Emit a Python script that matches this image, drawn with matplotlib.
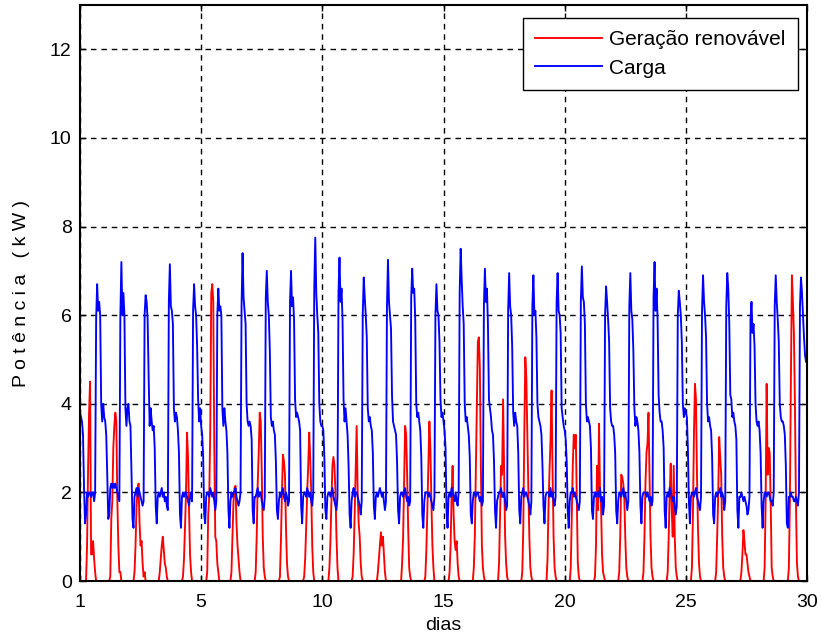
import numpy as np
import matplotlib.pyplot as plt

plt.rcParams['font.family'] = ['Liberation Sans', 'DejaVu Sans']

# hourly values (kW), one row per day, hours 0..23
geracao_kw = [
    [0, 0, 0, 0, 0, 0, 0.0, 0.8, 2.5, 3.8, 4.5, 0.6, 0.6, 0.9, 0.5, 0.2, 0, 0, 0, 0, 0, 0, 0, 0],
    [0, 0, 0, 0, 0, 0, 0.1, 1.4, 1.8, 3.0, 3.5, 3.8, 3.6, 1.8, 0.8, 0.2, 0.2, 0, 0, 0, 0, 0, 0, 0],
    [0, 0, 0, 0, 0, 0, 0.2, 0.8, 1.7, 2.0, 2.2, 1.3, 0.8, 0.9, 0.4, 0.1, 0.2, 0, 0, 0, 0, 0, 0, 0],
    [0, 0, 0, 0, 0, 0, 0, 0.2, 0.5, 0.8, 1.0, 0.7, 0.4, 0.3, 0.1, 0, 0, 0, 0, 0, 0, 0, 0, 0],
    [0, 0, 0, 0, 0, 0, 0.1, 0.5, 1.2, 2.0, 3.35, 2.8, 1.6, 0.6, 0.2, 0, 0, 0, 0, 0, 0, 0, 0, 0],
    [0, 0, 0, 0, 0, 0, 0.2, 1.5, 1.9, 3.4, 6.5, 6.7, 6.3, 3.0, 1.0, 0.9, 0.4, 0.2, 0, 0, 0, 0, 0, 0],
    [0, 0, 0, 0, 0, 0, 0.2, 1.0, 1.8, 2.1, 2.15, 1.3, 0.8, 0.5, 0.2, 0, 0, 0, 0, 0, 0, 0, 0, 0],
    [0, 0, 0, 0, 0, 0, 0.2, 1.0, 2.2, 2.9, 3.8, 3.6, 2.5, 1.0, 0.3, 0.1, 0, 0, 0, 0, 0, 0, 0, 0],
    [0, 0, 0, 0, 0, 0, 0.1, 0.9, 2.0, 2.85, 2.7, 2.4, 1.2, 0.4, 0.1, 0, 0, 0, 0, 0, 0, 0, 0, 0],
    [0, 0, 0, 0, 0, 0, 0.1, 0.5, 1.2, 2.0, 2.6, 3.35, 2.8, 2.0, 0.8, 0.2, 0, 0, 0, 0, 0, 0, 0, 0],
    [0, 0, 0, 0, 0, 0, 0, 0.3, 0.9, 1.8, 2.6, 2.8, 2.6, 2.0, 1.0, 0.3, 0, 0, 0, 0, 0, 0, 0, 0],
    [0, 0, 0, 0, 0, 0, 0.1, 0.6, 1.5, 2.5, 3.5, 2.0, 1.3, 1.0, 0.4, 0.1, 0, 0, 0, 0, 0, 0, 0, 0],
    [0, 0, 0, 0, 0, 0, 0, 0.2, 0.5, 0.8, 1.1, 0.8, 1.0, 0.6, 0.2, 0, 0, 0, 0, 0, 0, 0, 0, 0],
    [0, 0, 0, 0, 0, 0, 0, 0.4, 1.0, 2.2, 3.5, 3.3, 2.4, 1.2, 0.3, 0.1, 0, 0, 0, 0, 0, 0, 0, 0],
    [0, 0, 0, 0, 0, 0, 0.1, 0.7, 1.6, 2.6, 3.6, 3.0, 1.8, 0.8, 0.3, 0, 0, 0, 0, 0, 0, 0, 0, 0],
    [0, 0, 0, 0, 0, 0, 0.2, 0.8, 1.9, 2.6, 1.5, 0.9, 0.7, 0.9, 0.4, 0.1, 0, 0, 0, 0, 0, 0, 0, 0],
    [0, 0, 0, 0, 0, 0, 0.3, 1.0, 2.5, 4.0, 5.4, 5.5, 4.8, 2.6, 0.8, 0.3, 0.1, 0, 0, 0, 0, 0, 0, 0],
    [0, 0, 0, 0, 0, 0, 0, 0.4, 1.5, 2.6, 2.4, 4.1, 2.5, 1.0, 0.4, 0.1, 0, 0, 0, 0, 0, 0, 0, 0],
    [0, 0, 0, 0, 0, 0, 0.2, 1.2, 3.3, 5.05, 4.6, 3.3, 2.1, 1.0, 0.3, 0.1, 0, 0, 0, 0, 0, 0, 0, 0],
    [0, 0, 0, 0, 0, 0, 0, 0.5, 1.7, 2.5, 3.2, 4.3, 2.5, 1.0, 0.3, 0.1, 0, 0, 0, 0, 0, 0, 0, 0],
    [0, 0, 0, 0, 0, 0, 0.3, 1.5, 2.6, 3.3, 3.0, 3.3, 1.9, 0.4, 0.1, 0, 0, 0, 0, 0, 0, 0, 0, 0],
    [0, 0, 0, 0, 0, 0, 0.1, 0.8, 2.6, 1.6, 3.55, 2.0, 1.7, 0.6, 0.2, 0.1, 0, 0, 0, 0, 0, 0, 0, 0],
    [0, 0, 0, 0, 0, 0, 0.2, 1.0, 2.4, 2.35, 2.2, 1.9, 1.0, 0.3, 0.1, 0, 0, 0, 0, 0, 0, 0, 0, 0],
    [0, 0, 0, 0, 0, 0, 0.2, 1.0, 2.2, 2.9, 3.1, 3.8, 2.4, 1.0, 0.3, 0.1, 0, 0, 0, 0, 0, 0, 0, 0],
    [0, 0, 0, 0, 0, 0, 0.2, 1.0, 2.0, 2.65, 1.6, 1.0, 2.6, 1.0, 0.3, 0.1, 0, 0, 0, 0, 0, 0, 0, 0],
    [0, 0, 0, 0, 0, 0, 0.3, 1.5, 3.3, 4.45, 4.1, 2.4, 1.2, 0.4, 0.1, 0, 0, 0, 0, 0, 0, 0, 0, 0],
    [0, 0, 0, 0, 0, 0, 0.2, 1.0, 1.9, 3.25, 2.8, 2.4, 1.0, 0.3, 0.1, 0, 0, 0, 0, 0, 0, 0, 0, 0],
    [0, 0, 0, 0, 0, 0, 0, 0.2, 0.6, 1.15, 0.9, 0.6, 0.6, 0.4, 0.2, 0.1, 0, 0, 0, 0, 0, 0, 0, 0],
    [0, 0, 0, 0, 0, 0, 0.3, 1.8, 4.45, 2.4, 3.0, 2.9, 1.8, 0.3, 0.1, 0, 0, 0, 0, 0, 0, 0, 0, 0],
    [0, 0, 0, 0, 0, 0, 0.3, 1.8, 4.5, 6.9, 6.3, 5.6, 4.0, 1.8, 0.4, 0.1, 0, 0, 0, 0, 0, 0, 0, 0],
]

carga_kw = [
    [3.8, 3.7, 3.6, 3.3, 2.1, 1.3, 1.5, 2.0, 1.9, 2.0, 2.0, 1.9, 2.0, 2.0, 1.8, 2.0, 5.9, 6.7, 6.1, 6.3, 6.0, 4.0, 3.6, 4.0],
    [3.7, 3.6, 3.3, 2.4, 1.4, 1.5, 2.1, 2.2, 2.1, 2.2, 2.1, 2.2, 2.1, 2.0, 1.9, 1.8, 6.0, 7.2, 6.0, 6.5, 6.0, 3.9, 3.5, 3.9],
    [4.0, 3.6, 3.5, 2.4, 1.4, 1.2, 1.9, 2.0, 2.1, 1.9, 2.1, 2.0, 1.9, 1.8, 1.7, 1.8, 6.0, 6.45, 6.3, 5.9, 4.6, 3.5, 3.9, 3.6],
    [3.4, 3.5, 3.0, 1.7, 1.3, 1.9, 2.0, 1.9, 2.0, 2.1, 1.9, 2.0, 1.8, 1.9, 1.7, 1.6, 6.3, 7.15, 6.2, 6.1, 5.8, 3.9, 3.6, 3.8],
    [3.7, 3.4, 2.9, 1.5, 1.2, 1.9, 2.0, 1.9, 2.0, 2.0, 1.9, 1.8, 1.7, 1.9, 2.0, 1.8, 6.1, 6.7, 6.2, 6.0, 5.3, 4.1, 3.6, 3.9],
    [3.5, 3.3, 2.8, 1.5, 1.3, 1.9, 2.0, 2.0, 1.9, 2.1, 2.0, 1.9, 2.0, 1.8, 1.6, 1.8, 6.0, 6.6, 6.1, 6.2, 6.0, 3.9, 3.5, 3.9],
    [3.6, 3.4, 2.9, 1.6, 1.2, 1.8, 2.0, 1.9, 2.0, 2.0, 2.1, 1.9, 1.8, 1.7, 1.8, 2.0, 6.2, 7.4, 6.4, 6.1, 5.8, 4.0, 3.6, 3.5],
    [3.6, 3.5, 3.2, 1.6, 1.3, 1.9, 1.9, 2.0, 2.1, 1.9, 2.0, 2.0, 1.8, 1.7, 1.6, 1.9, 6.4, 7.0, 6.3, 6.0, 5.2, 3.7, 3.5, 3.6],
    [3.4, 3.3, 2.7, 1.6, 1.4, 1.8, 2.0, 1.9, 2.0, 2.1, 1.9, 1.8, 2.0, 1.9, 1.7, 1.8, 6.3, 7.0, 6.2, 6.4, 5.9, 4.1, 3.7, 3.8],
    [3.7, 3.6, 3.4, 1.7, 1.3, 1.9, 2.0, 2.0, 1.9, 2.1, 2.0, 1.9, 2.0, 1.8, 1.7, 2.0, 6.6, 7.75, 6.5, 6.0, 5.6, 4.0, 3.6, 3.5],
    [3.5, 3.4, 2.8, 1.6, 1.4, 1.9, 2.0, 2.0, 1.9, 2.0, 2.1, 1.9, 1.8, 1.7, 1.6, 1.9, 6.5, 7.3, 6.3, 6.6, 5.9, 4.1, 3.6, 3.9],
    [3.6, 3.3, 2.6, 1.5, 1.2, 1.8, 2.0, 2.1, 1.9, 2.0, 2.0, 1.9, 1.8, 1.7, 1.5, 1.8, 6.0, 6.85, 6.4, 6.0, 5.5, 3.9, 3.6, 3.7],
    [3.5, 3.4, 2.9, 1.7, 1.4, 1.9, 2.0, 1.9, 2.0, 2.1, 2.0, 1.9, 2.0, 1.8, 1.6, 1.8, 6.2, 7.25, 6.3, 6.0, 5.7, 4.2, 3.6, 3.5],
    [3.4, 3.3, 2.7, 1.6, 1.3, 1.9, 2.0, 2.0, 1.9, 2.0, 2.1, 1.9, 1.8, 1.9, 1.7, 1.8, 6.4, 7.05, 6.5, 6.6, 5.9, 4.0, 3.7, 3.8],
    [3.6, 3.4, 2.8, 1.5, 1.2, 1.8, 2.0, 2.0, 2.0, 1.9, 2.0, 1.9, 1.8, 1.7, 1.6, 1.9, 6.0, 6.7, 6.1, 6.0, 5.4, 4.1, 3.7, 3.8],
    [3.6, 3.4, 3.0, 1.6, 1.2, 1.9, 2.0, 1.9, 2.1, 2.0, 1.9, 1.8, 2.0, 1.8, 1.7, 2.0, 6.5, 7.5, 6.8, 6.2, 5.8, 4.0, 3.6, 3.7],
    [3.5, 3.3, 2.8, 1.5, 1.3, 1.8, 2.0, 2.0, 1.9, 2.0, 2.0, 1.9, 1.8, 1.9, 1.7, 1.8, 6.2, 7.05, 6.3, 6.6, 5.8, 4.1, 3.9, 3.7],
    [3.4, 3.3, 2.7, 1.6, 1.2, 1.8, 1.9, 2.0, 2.0, 2.1, 1.9, 1.9, 2.0, 1.8, 1.6, 1.7, 6.1, 6.95, 6.2, 6.0, 5.3, 3.8, 3.5, 3.8],
    [3.6, 3.5, 2.9, 1.6, 1.3, 1.9, 2.0, 2.1, 1.9, 2.0, 2.0, 1.9, 1.8, 1.7, 1.5, 1.8, 6.2, 6.9, 6.0, 6.1, 5.5, 4.0, 3.7, 3.6],
    [3.5, 3.3, 2.6, 1.7, 1.3, 1.9, 2.0, 2.0, 2.0, 1.9, 2.1, 1.9, 2.0, 1.8, 1.7, 1.9, 6.3, 6.95, 6.1, 6.0, 5.6, 3.9, 3.7, 3.5],
    [3.4, 3.2, 2.7, 1.6, 1.2, 1.8, 2.0, 2.0, 2.1, 1.9, 2.0, 1.9, 1.8, 1.7, 1.6, 1.8, 6.3, 7.1, 6.4, 6.3, 5.8, 4.0, 3.6, 3.7],
    [3.6, 3.5, 3.0, 1.6, 1.4, 1.9, 2.0, 1.9, 2.0, 2.0, 1.9, 2.1, 1.8, 1.9, 1.5, 1.7, 6.0, 6.65, 6.3, 5.9, 5.4, 3.9, 3.6, 3.5],
    [3.5, 3.3, 2.9, 1.6, 1.3, 1.8, 2.0, 2.0, 1.9, 2.0, 2.1, 1.9, 2.0, 1.8, 1.6, 1.8, 6.2, 6.95, 6.1, 5.9, 5.2, 3.9, 3.5, 3.7],
    [3.6, 3.4, 2.9, 1.7, 1.3, 1.9, 2.0, 2.0, 2.0, 1.9, 2.0, 1.9, 1.8, 1.9, 1.7, 1.8, 6.4, 7.2, 6.1, 6.6, 5.9, 4.2, 3.8, 3.6],
    [3.6, 3.4, 3.0, 1.6, 1.2, 1.9, 2.0, 1.9, 2.1, 2.0, 1.9, 1.8, 1.9, 1.7, 1.5, 1.7, 6.0, 6.55, 6.3, 6.0, 5.4, 4.0, 3.7, 3.9],
    [3.8, 3.7, 3.0, 1.8, 1.3, 1.9, 2.0, 2.0, 1.9, 2.0, 2.1, 1.9, 1.8, 1.7, 1.6, 1.9, 6.1, 6.9, 6.3, 6.0, 5.5, 4.0, 3.6, 3.7],
    [3.5, 3.4, 2.8, 1.5, 1.3, 1.9, 2.0, 1.9, 2.0, 2.0, 2.1, 1.9, 2.0, 1.9, 1.6, 1.8, 6.2, 6.95, 6.6, 5.8, 4.2, 4.1, 3.7, 3.8],
    [3.6, 3.5, 3.2, 1.6, 1.2, 1.9, 1.9, 2.0, 1.9, 1.8, 1.9, 1.8, 1.7, 1.5, 1.6, 1.9, 5.9, 6.3, 5.6, 5.8, 5.3, 4.0, 3.6, 3.5],
    [3.6, 3.4, 2.9, 1.7, 1.2, 1.8, 2.0, 2.0, 1.9, 2.0, 2.0, 1.9, 1.8, 1.8, 1.7, 2.0, 6.2, 6.9, 6.3, 5.9, 5.4, 4.0, 3.7, 3.6],
    [3.6, 3.5, 3.3, 2.6, 1.3, 1.2, 1.9, 1.9, 2.0, 1.9, 1.9, 1.8, 1.8, 1.9, 1.8, 1.7, 2.0, 6.2, 6.85, 6.5, 6.0, 5.5, 5.1, 4.95],
]

x_ticks = [0, 5, 10, 15, 20, 25, 30]
x_ticklabels = ['1', '5', '10', '15', '20', '25', '30']
y_ticks = [0, 2, 4, 6, 8, 10, 12]

ger = np.array(geracao_kw, dtype=float).ravel()
carga = np.array(carga_kw, dtype=float).ravel()
t = np.arange(len(carga)) / 24.0

fig = plt.figure(figsize=(8.22, 6.43), dpi=100)
ax = fig.add_axes([0.0973, 0.0964, 0.8845, 0.8958])

ax.plot(t, ger, color='#ff0000', lw=1.35, label='Geração renovável')
ax.plot(t, carga, color='#0000ff', lw=1.35, label='Carga')

ax.set_xlim(0, 30)
ax.set_ylim(0, 13)
ax.set_xticks(x_ticks)
ax.set_xticklabels(x_ticklabels)
ax.set_yticks(y_ticks)
ax.grid(True, color='black', linestyle=(0, (4, 3.5)), linewidth=1.0)
ax.tick_params(direction='in', length=4, width=1, top=True, right=True,
               labelsize=14, pad=6)
ax.tick_params(axis='x', pad=9)
for s in ax.spines.values():
    s.set_linewidth(1.5)

ax.set_xlabel('dias', fontsize=14, labelpad=5)
ax.set_ylabel('P o t ê n c i a   ( k W )', fontsize=14, labelpad=14)

leg = ax.legend(loc='upper right', bbox_to_anchor=(0.988, 0.978), borderaxespad=0,
                fancybox=False, edgecolor='black', framealpha=1, fontsize=15,
                handlelength=3.2, labelspacing=0.45, handletextpad=0.35,
                borderpad=0.6)
leg.get_frame().set_linewidth(1.0)

fig.savefig('out.png', dpi=100)
